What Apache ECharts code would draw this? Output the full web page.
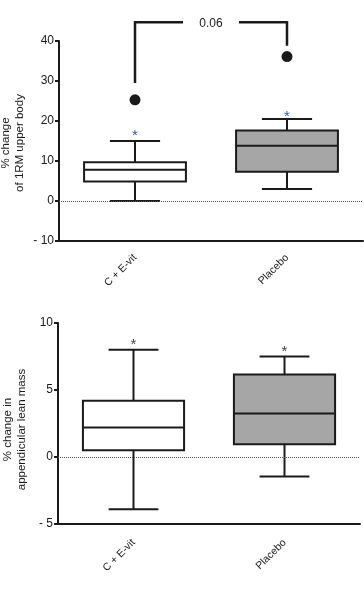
<!DOCTYPE html>
<html><head><meta charset="utf-8">
<script src="https://cdn.jsdelivr.net/npm/echarts@6/dist/echarts.min.js"></script>
<style>html,body{margin:0;padding:0;background:#fff}#c{width:364px;height:589px}</style>
</head><body><div id="c"></div>
<script>
const categories = ['C + E-vit', 'Placebo'];
// [low whisker, Q1, median, Q3, high whisker]
const strengthBox = [[0, 4.9, 7.8, 9.7, 15.0], [3.0, 7.3, 13.8, 17.6, 20.5]];
const strengthOutliers = [25.3, 36.1];
const strengthStars = [17.0, 21.7];
const strengthTicks = [-10, 0, 10, 20, 30, 40];
const leanBox = [[-3.9, 0.5, 2.2, 4.2, 8.0], [-1.45, 0.95, 3.25, 6.15, 7.5]];
const leanStars = [8.6, 8.1];
const leanTicks = [-5, 0, 5, 10];
const pValue = '0.06';
const bracketY = [29.5, 44.7, 38.8]; // left foot, bar level, right foot
const boxFills = ['#ffffff', '#a6a6a6'];

const INK = '#1a1a1a';
const font = 'Liberation Sans';

function boxRender(params, api) {
  const i = api.value(0);
  const v = [api.value(1), api.value(2), api.value(3), api.value(4), api.value(5)];
  const band = api.size([1, 0])[0];
  const bw = band * 0.67, cw = band * 0.33;
  const cx = api.coord([i, v[2]])[0];
  const y = v.map(t => api.coord([i, t])[1]);
  const ls = {stroke: INK, lineWidth: 2};
  return {type: 'group', children: [
    {type: 'line', shape: {x1: cx, y1: y[0], x2: cx, y2: y[1]}, style: ls},
    {type: 'line', shape: {x1: cx, y1: y[3], x2: cx, y2: y[4]}, style: ls},
    {type: 'line', shape: {x1: cx - cw / 2, y1: y[0], x2: cx + cw / 2, y2: y[0]}, style: ls},
    {type: 'line', shape: {x1: cx - cw / 2, y1: y[4], x2: cx + cw / 2, y2: y[4]}, style: ls},
    {type: 'rect', shape: {x: cx - bw / 2, y: y[3], width: bw, height: y[1] - y[3]},
      style: {fill: boxFills[i], stroke: INK, lineWidth: 2}},
    {type: 'line', shape: {x1: cx - bw / 2, y1: y[2], x2: cx + bw / 2, y2: y[2]}, style: ls}
  ]};
}

function starRender(color) {
  return function (params, api) {
    const p = api.coord([api.value(0), api.value(1)]);
    return {type: 'text', x: p[0], y: p[1] + 3,
      style: {text: '*', fill: color, font: '15px ' + font, align: 'center', verticalAlign: 'middle'}};
  };
}

function bracketRender(params, api) {
  const a = api.coord([0, bracketY[0]]);
  const t = api.coord([0, bracketY[1]]);
  const b = api.coord([1, bracketY[2]]);
  const mid = (a[0] + b[0]) / 2;
  const gap = 28;
  const ls = {stroke: INK, lineWidth: 2.5};
  return {type: 'group', children: [
    {type: 'polyline', shape: {points: [[a[0], a[1]], [a[0], t[1]], [mid - gap, t[1]]]}, style: Object.assign({fill: null}, ls)},
    {type: 'polyline', shape: {points: [[mid + gap, t[1]], [b[0], t[1]], [b[0], b[1]]]}, style: Object.assign({fill: null}, ls)},
    {type: 'text', x: mid, y: t[1] + 1, style: {text: pValue, fill: INK, font: '12px ' + font, align: 'center', verticalAlign: 'middle'}}
  ]};
}

const yLabel = v => v < 0 ? '- ' + Math.abs(v) : String(v);

function xAxis(gi, margin) {
  return {type: 'category', gridIndex: gi, data: categories, boundaryGap: true,
    axisLine: {onZero: false, lineStyle: {color: INK, width: 2}},
    axisTick: {alignWithLabel: true, length: 4, lineStyle: {color: INK, width: 2}},
    axisLabel: {rotate: 45, color: INK, fontSize: 10.5, fontFamily: font, margin: margin}};
}
function yAxis(gi, ticks, name, gap, pad) {
  return {type: 'value', gridIndex: gi, min: ticks[0], max: ticks[ticks.length - 1],
    interval: ticks[1] - ticks[0],
    name: name, nameLocation: 'middle', nameRotate: 90, nameGap: gap, nameMoveOverlap: false,
    nameTextStyle: {color: INK, fontSize: 11.5, fontFamily: font, lineHeight: 14, padding: pad},
    axisLine: {show: true, onZero: false, lineStyle: {color: INK, width: 2}},
    axisTick: {show: true, length: 4, lineStyle: {color: INK, width: 2}},
    splitLine: {show: false},
    axisLabel: {color: INK, fontSize: 12, fontFamily: font, margin: 5, formatter: yLabel}};
}

const zeroLine = {silent: true, symbol: 'none', label: {show: false},
  lineStyle: {color: '#555', type: 'dotted', width: 1}, data: [{yAxis: 0}]};

const chart = echarts.init(document.getElementById('c'), null, {renderer: 'canvas'});
chart.setOption({
  animation: false,
  grid: [
    {left: 59, right: 1, top: 41, height: 200, outerBoundsMode: 'none', containLabel: false},
    {left: 58, right: 4, top: 323, height: 201, outerBoundsMode: 'none', containLabel: false}
  ],
  xAxis: [xAxis(0, 15), xAxis(1, 17)],
  yAxis: [yAxis(0, strengthTicks, '% change\nof 1RM upper body', 32, [0, 4, 0, 0]),
          yAxis(1, leanTicks, '% change in\nappendicular lean mass', 29, [0, 12, 0, 0])],
  series: [
    {type: 'custom', xAxisIndex: 0, yAxisIndex: 0, renderItem: boxRender, z: 3,
      data: strengthBox.map((b, i) => [i].concat(b)), markLine: zeroLine},
    {type: 'scatter', xAxisIndex: 0, yAxisIndex: 0, symbolSize: 11, itemStyle: {color: INK, opacity: 1},
      data: strengthOutliers.map((v, i) => [i, v]), z: 4},
    {type: 'custom', xAxisIndex: 0, yAxisIndex: 0, renderItem: starRender('#2b5a9a'), z: 4,
      data: strengthStars.map((v, i) => [i, v])},
    {type: 'custom', xAxisIndex: 0, yAxisIndex: 0, renderItem: bracketRender, clip: false, z: 4,
      data: [[0, 0]]},
    {type: 'custom', xAxisIndex: 1, yAxisIndex: 1, renderItem: boxRender, z: 3,
      data: leanBox.map((b, i) => [i].concat(b)), markLine: zeroLine},
    {type: 'custom', xAxisIndex: 1, yAxisIndex: 1, renderItem: starRender('#444'), z: 4,
      data: leanStars.map((v, i) => [i, v])}
  ]
});
</script></body></html>
